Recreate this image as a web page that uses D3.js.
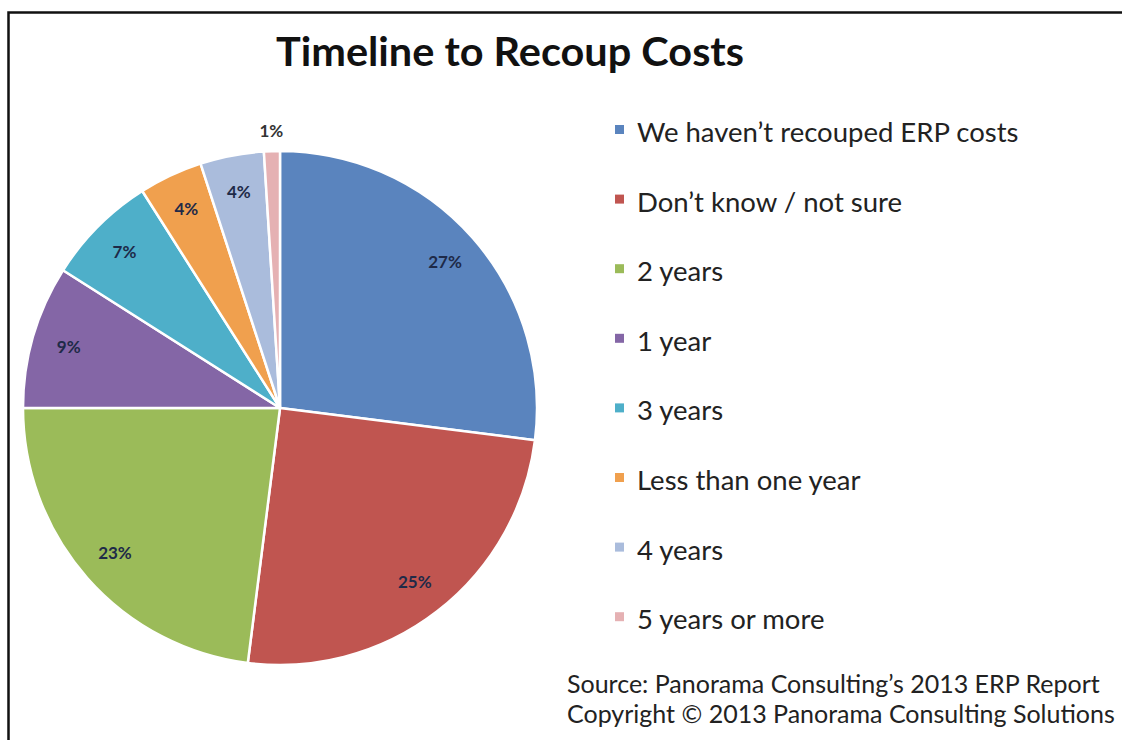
<!DOCTYPE html>
<html>
<head>
<meta charset="utf-8">
<script src="https://cdn.jsdelivr.net/npm/d3@7"></script>
<style>
  body { margin: 0; background: #fff; }
  svg { display: block; }
</style>
</head>
<body>
<svg id="chart" width="1122" height="740"></svg>
<script>
// data
var categories = ["We haven\u2019t recouped ERP costs", "Don\u2019t know / not sure", "2 years", "1 year",
  "3 years", "Less than one year", "4 years", "5 years or more"];
var values = [27, 25, 23, 9, 7, 4, 4, 1];
var colors = ["#5a84be", "#c05550", "#9bbb59", "#8466a6", "#4eafc9", "#f0a04e", "#aabcdc", "#e5b1b3"];
var title = "Timeline to Recoup Costs";
var footer = ["Source: Panorama Consulting\u2019s 2013 ERP Report",
  "Copyright \u00a9 2013 Panorama Consulting Solutions"];

var svg = d3.select("#chart");

// frame (top + left edge like the cropped original)
svg.append("path")
  .attr("d", "M8.5,740 L8.5,12.5 L1122,12.5")
  .attr("fill", "none")
  .attr("stroke", "#111")
  .attr("stroke-width", 2.5);

svg.append("text")
  .attr("x", 510)
  .attr("y", 66)
  .attr("text-anchor", "middle")
  .attr("font-family", "Lato, sans-serif")
  .attr("font-weight", "bold")
  .attr("font-size", 41)
  .attr("textLength", 468)
  .attr("lengthAdjust", "spacingAndGlyphs")
  .attr("fill", "#111")
  .text(title);

var cx = 280, cy = 408, radius = 257;

var pie = d3.pie().sort(null).value(function (d) { return d; });
var arc = d3.arc().innerRadius(0).outerRadius(radius);
var labelArc = d3.arc().innerRadius(220).outerRadius(220);
var outerLabelArc = d3.arc().innerRadius(277).outerRadius(277);

var color = d3.scaleOrdinal().domain(categories).range(colors);

var g = svg.append("g").attr("transform", "translate(" + cx + "," + cy + ")");
var arcs = pie(values);

g.selectAll("path")
  .data(arcs)
  .enter().append("path")
  .attr("d", arc)
  .attr("fill", function (d, i) { return color(categories[i]); })
  .attr("stroke", "#fff")
  .attr("stroke-width", 2.5)
  .attr("stroke-linejoin", "round");

g.selectAll("text.lbl")
  .data(arcs)
  .enter().append("text")
  .attr("class", "lbl")
  .attr("transform", function (d) {
    var p = (d.value < 2 ? outerLabelArc : labelArc).centroid(d);
    return "translate(" + p[0] + "," + p[1] + ")";
  })
  .attr("dy", "0.35em")
  .attr("text-anchor", "middle")
  .attr("font-family", "Lato, sans-serif")
  .attr("font-weight", "bold")
  .attr("font-size", 17)
  .attr("fill", function (d) { return d.value < 2 ? "#333" : "#1e2a48"; })
  .text(function (d) { return d.value + "%"; });

// legend
var legend = svg.append("g")
  .attr("font-family", "Lato, sans-serif")
  .attr("font-size", 27.5)
  .attr("fill", "#222")
  .selectAll("g")
  .data(categories)
  .enter().append("g")
  .attr("transform", function (d, i) { return "translate(615," + (133 + i * 69.6) + ")"; });

legend.append("rect")
  .attr("x", 0)
  .attr("y", -8)
  .attr("width", 9)
  .attr("height", 9)
  .attr("fill", color);

legend.append("text")
  .attr("x", 22)
  .attr("y", 9)
  .text(function (d) { return d; });

svg.append("g")
  .attr("font-family", "Lato, sans-serif")
  .attr("font-size", 25)
  .attr("fill", "#222")
  .selectAll("text")
  .data(footer)
  .enter().append("text")
  .attr("x", 567)
  .attr("y", function (d, i) { return 693 + i * 30; })
  .text(function (d) { return d; });
</script>
</body>
</html>
